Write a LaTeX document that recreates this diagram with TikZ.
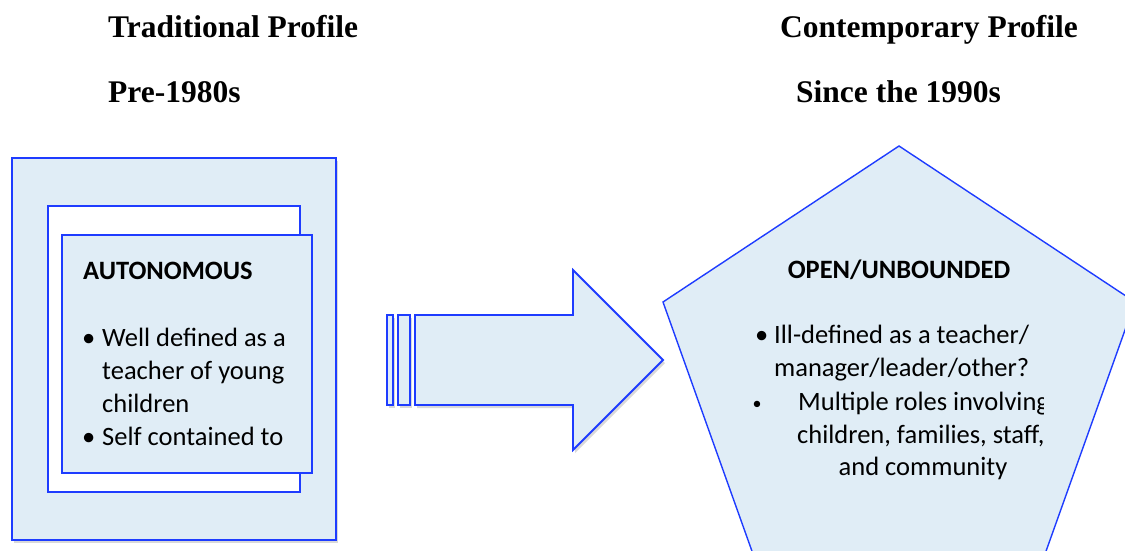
\documentclass[tikz,border=0pt]{standalone}
\usepackage{fontspec}
\setmainfont{Carlito}
\newfontfamily\headfont{Liberation Serif}
\usepackage{tikz}
\usetikzlibrary{shadows}
\definecolor{boxblue}{RGB}{30, 60, 255}
\definecolor{boxfill}{RGB}{224, 237, 246}
\tikzset{
  panel/.style={draw=boxblue, line width=1.8pt, fill=boxfill, inner sep=0pt},
  softshadow/.style={drop shadow={opacity=0.3, shadow xshift=2pt, shadow yshift=-3pt}},
  heading/.style={font=\headfont\fontsize{31.5}{36}\selectfont\bfseries, inner sep=0pt},
  bodytext/.style={font=\fontsize{26.5}{33}\selectfont, inner sep=0pt, align=left},
}
\begin{document}
\begin{tikzpicture}[x=1pt, y=-1pt]
  \useasboundingbox (0,0) rectangle (1125,550);
  \clip (0,0) rectangle (1125,550);

  % headings
  \node[heading, anchor=base west] (tradtitle) at (108,37) {Traditional Profile};
  \node[heading, anchor=base west] (tradyear) at (108,102) {Pre-1980s};
  \node[heading, anchor=base west] (conttitle) at (780,37) {Contemporary Profile};
  \node[heading, anchor=base west] (contyear) at (796,102) {Since the 1990s};

  % traditional profile: nested boxes
  \node[panel, softshadow, minimum width=324pt, minimum height=382pt] (outer) at (174,349) {};
  \node[panel, fill=white, minimum width=252pt, minimum height=286pt] (middle) at (174,349) {};
  \node[panel, minimum width=250pt, minimum height=238pt] (inner) at (187,354) {};
  \node[bodytext, font=\fontsize{26.5}{33}\selectfont\bfseries, anchor=base west] (autonomous) at (83,279) {AUTONOMOUS};
  % base anchor of a multi-line node sits on its last line
  \node[bodytext, anchor=base west] (welldef) at (102,412) {\llap{\textbullet\hspace{7pt}}Well defined as a\\teacher of young\\children};
  \node[bodytext, anchor=base west] (selfcont) at (102,445) {\llap{\textbullet\hspace{7pt}}Self contained to};

  % striped arrow
  \draw[panel, softshadow] (387,315) rectangle (393,405);
  \draw[panel, softshadow] (398,315) rectangle (410,405);
  \draw[panel, softshadow] (415,315) -- (573,315) -- (573,270) -- (663,360)
    -- (573,450) -- (573,405) -- (415,405) -- cycle;

  % contemporary profile: pentagon
  \draw[panel, line width=1.4pt] (899,146) -- (1135,302) -- (1045,554)
    -- (753,554) -- (663,302) -- cycle;
  \node[bodytext, font=\fontsize{26.5}{33}\selectfont\bfseries, anchor=base] (openunb) at (899,278) {OPEN/UNBOUNDED};
  \node[bodytext, anchor=base west] (illdef) at (774,376) {\llap{\textbullet\hspace{6pt}}Ill-defined as a teacher/\\manager/leader/other?};
  \node[bodytext, font=\fontsize{18}{20}\selectfont, anchor=base] (dot) at (757,409) {\textbullet};
  \begin{scope}
    \clip (700,380) rectangle (1043,460);
    \node[bodytext, anchor=base west] (multiple) at (798,410) {Multiple roles involving};
    \node[bodytext, anchor=base west] (children) at (797,443) {children, families, staff,};
  \end{scope}
  \node[bodytext, anchor=base] (community) at (923,475) {and community};
\end{tikzpicture}
\end{document}
